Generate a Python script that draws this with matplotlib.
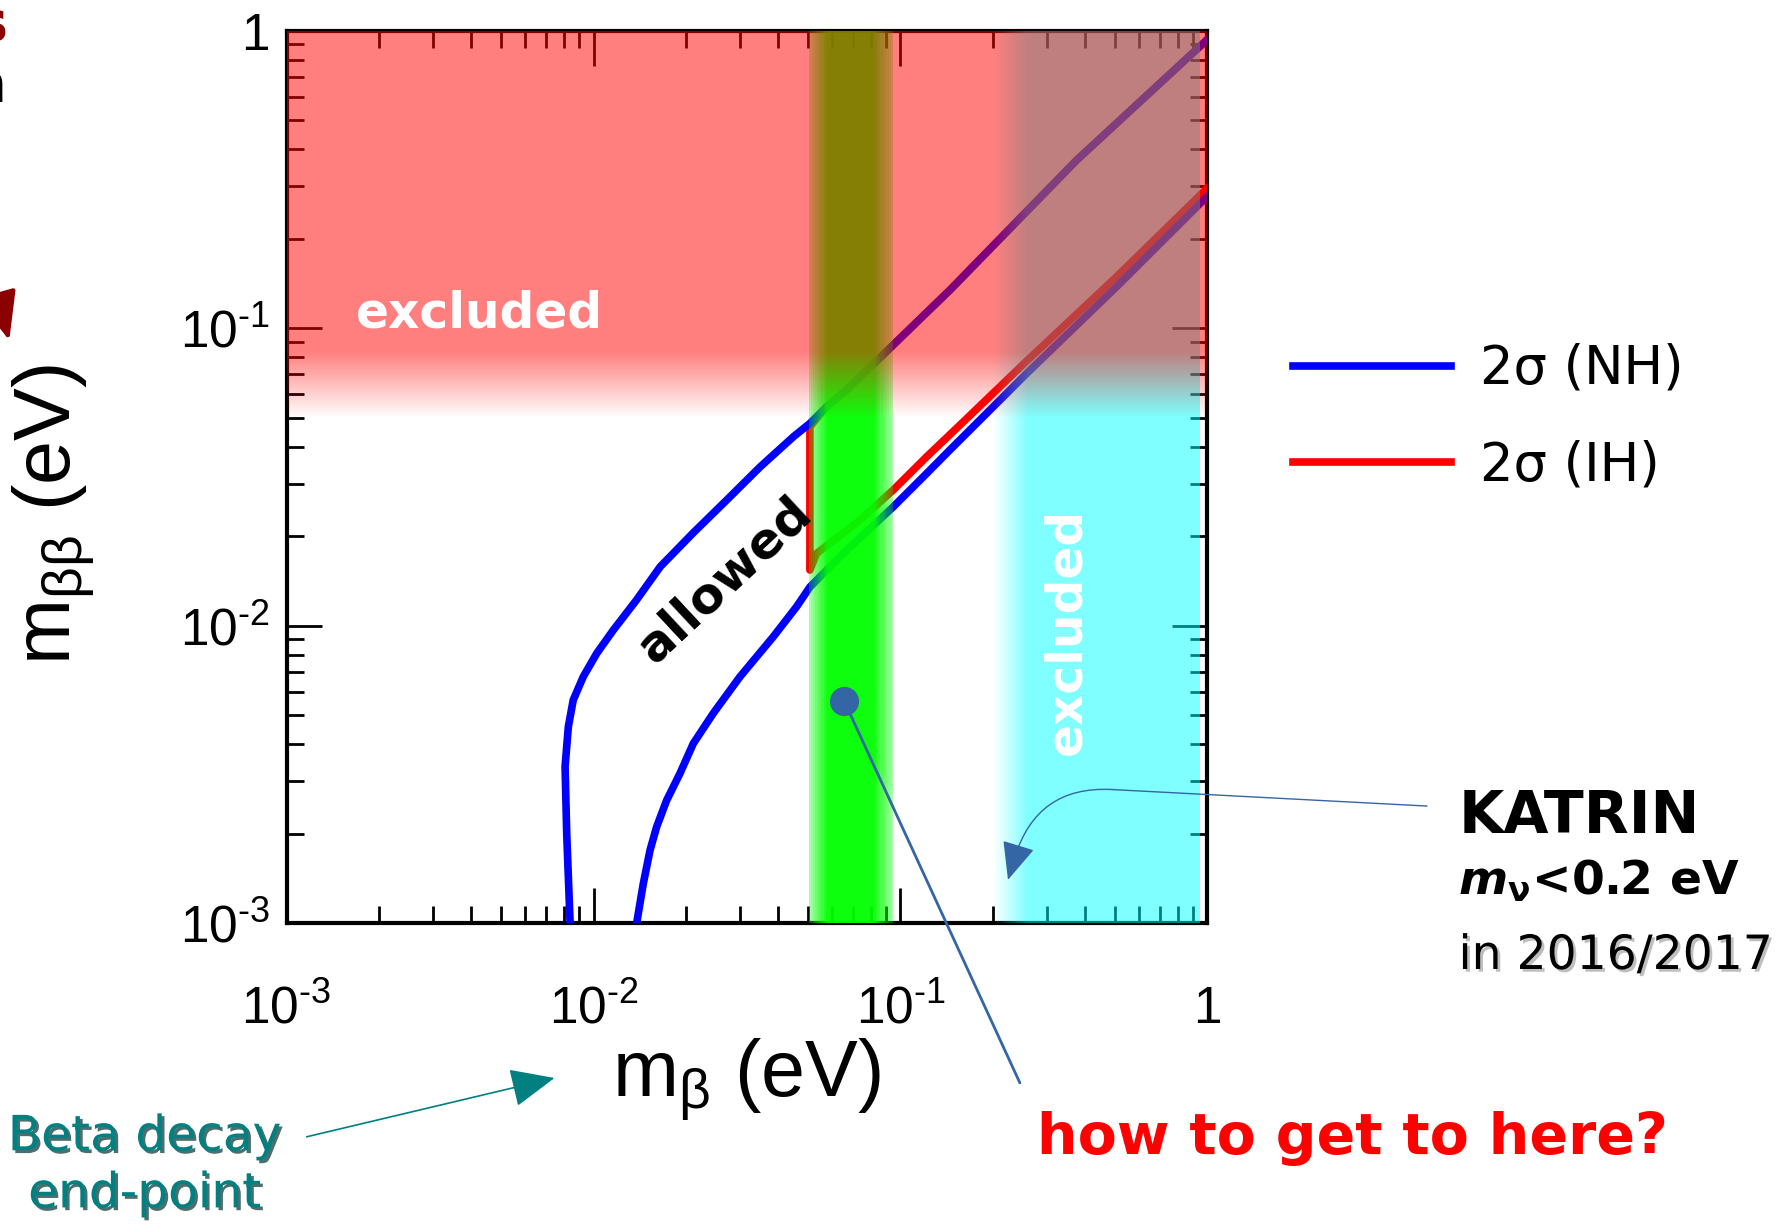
import numpy as np
import matplotlib.pyplot as plt
import matplotlib.patheffects as pe
from matplotlib.ticker import LogLocator, NullFormatter

# 2 sigma band edges (m_beta, m_betabeta in eV)
nh_up_mb = [0.00839, 0.00818, 0.00808, 0.00828, 0.00859, 0.00926, 0.01024, 0.0116, 0.0138, 0.0165,
            0.0211, 0.0272, 0.0349, 0.0448, 0.0507, 0.0575, 0.0685, 0.1449, 0.375, 1.0]
nh_up_mbb = [0.00100, 0.00200, 0.00336, 0.00458, 0.00563, 0.00674, 0.00807, 0.00967, 0.0122, 0.0158,
             0.0205, 0.0265, 0.0342, 0.0432, 0.0479, 0.0545, 0.0636, 0.1344, 0.3675, 0.935]
nh_lo_mb = [0.01382, 0.01453, 0.01528, 0.01606, 0.01731, 0.01913, 0.02114, 0.02456, 0.0300, 0.0385,
            0.0459, 0.0507, 0.0651, 0.0947, 0.1217, 0.1449, 0.2577, 0.5059, 1.0]
nh_lo_mbb = [0.00100, 0.00136, 0.00176, 0.00211, 0.00259, 0.00319, 0.00402, 0.00508, 0.00674, 0.00918,
             0.0116, 0.0135, 0.0175, 0.0251, 0.0325, 0.0390, 0.0705, 0.1379, 0.278]

ih_up_mb = [0.0507, 0.0575, 0.0685, 0.1449, 0.375, 1.0]
ih_up_mbb = [0.0467, 0.0545, 0.0636, 0.1344, 0.3675, 0.935]
ih_lo_mb = [0.0507, 0.0533, 0.0738, 0.0947, 0.1217, 0.1563, 0.2577, 0.5059, 1.0]
ih_lo_mbb = [0.01539, 0.0175, 0.02266, 0.0286, 0.0370, 0.0473, 0.0776, 0.149, 0.296]

# shaded regions
mbb_limit = 0.05          # 0vbb excluded above this
mbb_fade = 0.083
katrin_lo, katrin_full, katrin_hi = 0.20, 0.26, 0.945
band_lo, band_hi = 0.0503, 0.0946   # green band
dot_mb, dot_mbb = 0.0655, 0.0056

ticks = [1e-3, 1e-2, 1e-1, 1]
tick_labels = [r'$\mathregular{10^{\text{-}3}}$', r'$\mathregular{10^{\text{-}2}}$',
               r'$\mathregular{10^{\text{-}1}}$', '1']

plt.rcParams['font.family'] = ['Liberation Sans', 'DejaVu Sans']
plt.rcParams['mathtext.fontset'] = 'custom'
plt.rcParams['mathtext.rm'] = 'Liberation Sans'
plt.rcParams['mathtext.it'] = 'Liberation Sans:italic'
plt.rcParams['mathtext.bf'] = 'Liberation Sans:bold'

fig = plt.figure(figsize=(17.83, 12.25), dpi=100)
ax = fig.add_axes([0.1607, 0.2463, 0.5165, 0.7286])
ax.set_xscale('log')
ax.set_yscale('log')
ax.set_xlim(1e-3, 1)
ax.set_ylim(1e-3, 1)
ax.set_axisbelow(True)

# curves
ih_line, = ax.plot(ih_up_mb[::-1] + ih_lo_mb, ih_up_mbb[::-1] + ih_lo_mbb, color='#ff0000', lw=5.5, zorder=3)
nh_line, = ax.plot(nh_up_mb, nh_up_mbb, color='#0000ff', lw=5.5, zorder=4)
ax.plot(nh_lo_mb, nh_lo_mbb, color='#0000ff', lw=5.5, zorder=4)

# KATRIN region (cyan), fading in on the left
n = 40
xs = np.logspace(np.log10(katrin_lo), np.log10(katrin_full), n + 1)
for i in range(n):
    ax.axvspan(xs[i], xs[i + 1], color='cyan', alpha=0.5 * (i + 0.5) / n, lw=0, zorder=5, antialiased=False)
ax.axvspan(katrin_full, katrin_hi, color='cyan', alpha=0.5, lw=0, zorder=5, antialiased=False)

# green band, brighter in the middle
xs = np.logspace(np.log10(band_lo), np.log10(band_hi), n + 1)
for i in range(n):
    t = (i + 0.5) / n
    a = 0.3 + 0.65 * np.clip((0.5 - abs(t - 0.5)) / 0.22, 0, 1)
    ax.axvspan(xs[i], xs[i + 1], color='#00ff00', alpha=a, lw=0, zorder=6, antialiased=False)

# 0vbb excluded (red), fading out downwards
ys = np.logspace(np.log10(mbb_limit), np.log10(mbb_fade), n + 1)
for i in range(n):
    ax.axhspan(ys[i], ys[i + 1], color='red', alpha=0.5 * (i + 0.5) / n, lw=0, zorder=7, antialiased=False)
ax.axhspan(mbb_fade, 1, color='red', alpha=0.5, lw=0, zorder=7, antialiased=False)

# axes styling
ax.set_xticks(ticks, tick_labels)
ax.set_yticks(ticks, tick_labels)
for axis in (ax.xaxis, ax.yaxis):
    axis.set_minor_locator(LogLocator(base=10, subs=np.arange(2, 10)))
    axis.set_minor_formatter(NullFormatter())
ax.tick_params(which='both', direction='in', top=True, right=True, width=2, labelsize=37)
ax.tick_params(which='major', length=25)
ax.tick_params(which='minor', length=12)
ax.tick_params(axis='x', which='major', pad=72)
ax.tick_params(axis='y', which='major', pad=12)
for lab in ax.get_xticklabels():
    lab.set_va('baseline')
for s in ax.spines.values():
    s.set_linewidth(3)

ax.set_xlabel(r'$\mathregular{m_{β}}$ (eV)', fontsize=57, va='center')
ax.xaxis.set_label_coords(0.5, -0.1756)
ax.set_ylabel(r'$\mathregular{m_{ββ}}$ (eV)', fontsize=57, va='center')
ax.yaxis.set_label_coords(-0.253, 0.4586)

# texts inside the plot
ax.text(0.0755, 0.6675, 'excluded', transform=ax.transAxes, color='white', fontsize=35,
        fontweight='bold', family='DejaVu Sans', va='baseline', zorder=9)
ax.text(0.8616, 0.3275, 'excluded', transform=ax.transAxes, color='white', fontsize=35,
        fontweight='bold', family='DejaVu Sans', rotation=90, rotation_mode='anchor',
        ha='center', va='baseline', zorder=9)
ax.text(0.476, 0.3846, 'allowed', transform=ax.transAxes, color='black', fontsize=36,
        fontweight='bold', family='DejaVu Sans', rotation=43, rotation_mode='anchor',
        ha='center', va='center', zorder=9)

# target point and pointer to the question
steel = '#3465a4'
ax.plot([dot_mb], [dot_mbb], 'o', ms=20, color=steel, zorder=10, clip_on=False)
ax.annotate('', xy=(dot_mb, dot_mbb), xytext=(0.572, 0.116), textcoords='figure fraction',
            arrowprops=dict(arrowstyle='-', color=steel, lw=2, shrinkA=0, shrinkB=0),
            zorder=10, annotation_clip=False)
ax.annotate('', xy=(0.224, 0.0014), xytext=(0.8003, 0.342), textcoords='figure fraction',
            arrowprops=dict(arrowstyle='-|>,head_length=0.8,head_width=0.35', mutation_scale=30,
                            color=steel, lw=1, connectionstyle='angle,angleA=177,angleB=73,rad=75',
                            shrinkA=0, shrinkB=0),
            zorder=10, annotation_clip=False)

# legend
fig.legend([nh_line, ih_line], ['2σ (NH)', '2σ (IH)'], loc='upper left',
           bbox_to_anchor=(0.725, 0.72), frameon=False,
           prop={'family': 'DejaVu Sans', 'size': 38}, handlelength=3.0,
           handletextpad=0.55, labelspacing=0.85, borderpad=0, borderaxespad=0)

# right-hand notes
shadow = [pe.SimplePatchShadow(offset=(2, -2), shadow_rgbFace='gray', alpha=0.5), pe.Normal()]
fig.text(0.818, 0.3196, 'KATRIN', fontsize=42, fontweight='bold', family='DejaVu Sans', va='baseline')
fig.text(0.818, 0.2694, r'$\mathbfit{m}_{\mathbf{\nu}}$<0.2 eV', fontsize=34, fontweight='bold',
         family='DejaVu Sans', va='baseline', math_fontfamily='dejavusans')
fig.text(0.818, 0.209, 'in 2016/2017', fontsize=34, family='DejaVu Sans', va='baseline',
         path_effects=shadow)
fig.text(0.5816, 0.058, 'how to get to here?', fontsize=41, fontweight='bold', color='red',
         family='DejaVu Sans', va='baseline')

# beta decay note
fig.text(0.081, 0.092, 'Beta decay\nend-point', fontsize=35, color='#008080', family='DejaVu Sans',
         ha='center', va='top', linespacing=1.24,
         path_effects=[pe.SimplePatchShadow(offset=(2, -2), shadow_rgbFace='#003030', alpha=0.7), pe.Normal()])
ax.annotate('', xy=(0.311, 0.120), xycoords='figure fraction', xytext=(0.172, 0.072),
            textcoords='figure fraction',
            arrowprops=dict(arrowstyle='-|>,head_length=0.8,head_width=0.35', mutation_scale=35,
                            color='#008080', lw=1.2, shrinkA=0, shrinkB=0),
            annotation_clip=False)

# pieces of slide text cut by the left edge
fig.text(0.004, 1 - 40 / 1225, 's', ha='right', va='baseline', color='#8b0000', fontsize=40,
         fontweight='bold', family='DejaVu Sans')
fig.text(0.004, 1 - 102 / 1225, 'n', ha='right', va='baseline', color='black', fontsize=40,
         family='DejaVu Sans')
ax.annotate('', xy=(10 / 1783, 1 - 343 / 1225), xycoords='figure fraction',
            xytext=(-0.012, 1 - 230 / 1225), textcoords='figure fraction',
            arrowprops=dict(arrowstyle='-|>,head_length=1.2,head_width=0.5', mutation_scale=25,
                            color='#8b0000', lw=3),
            annotation_clip=False)

fig.savefig('out.png', dpi=100)
